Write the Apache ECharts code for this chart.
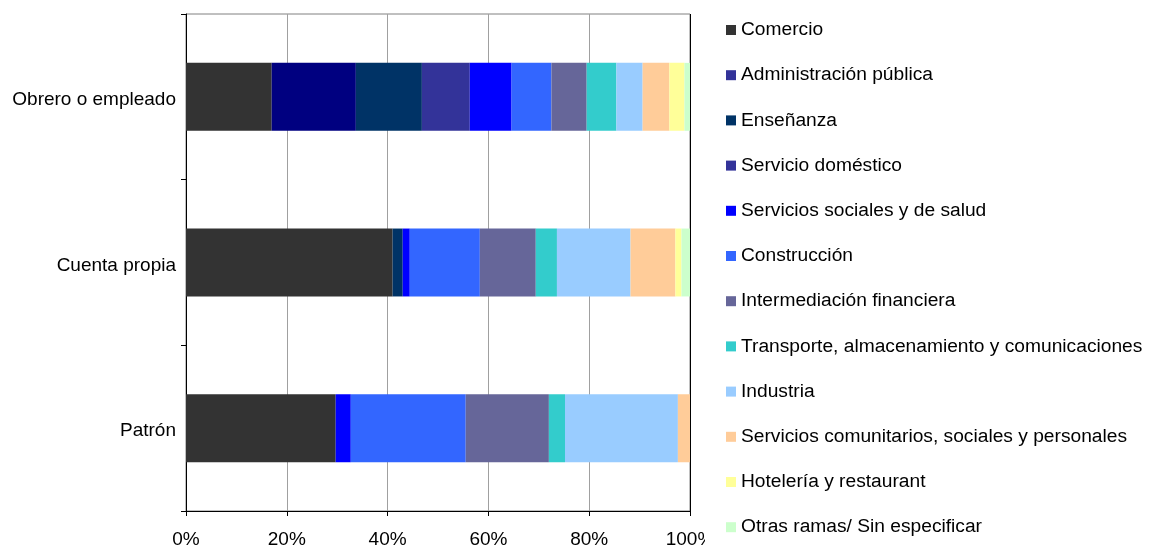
<!DOCTYPE html>
<html>
<head>
<meta charset="utf-8">
<script src="https://cdn.jsdelivr.net/npm/echarts@6/dist/echarts.min.js"></script>
<style>html,body{margin:0;padding:0;background:#fff}#c{width:1149px;height:549px}</style>
</head>
<body>
<div id="c"></div>
<script>
const categories = ['Obrero o empleado', 'Cuenta propia', 'Patrón'];
const xTicks = [0, 20, 40, 60, 80, 100];
const seriesNames = ['Comercio', 'Administración pública', 'Enseñanza', 'Servicio doméstico',
  'Servicios sociales y de salud', 'Construcción', 'Intermediación financiera',
  'Transporte, almacenamiento y comunicaciones', 'Industria',
  'Servicios comunitarios, sociales y personales', 'Hotelería y restaurant',
  'Otras ramas/ Sin especificar'];
const comercio = [17.0, 41.0, 29.7];
const administracion = [16.7, 0, 0];
const ensenanza = [13.1, 2.0, 0];
const domestico = [9.5, 0, 0];
const salud = [8.3, 1.4, 3.0];
const construccion = [7.9, 13.9, 22.8];
const intermediacion = [7.0, 11.1, 16.5];
const transporte = [5.9, 4.2, 3.2];
const industria = [5.2, 14.6, 22.4];
const comunitarios = [5.3, 8.9, 2.4];
const hoteleria = [3.0, 1.2, 0];
const otras = [1.1, 1.7, 0];
const seriesValues = [comercio, administracion, ensenanza, domestico, salud, construccion,
  intermediacion, transporte, industria, comunitarios, hoteleria, otras];
const colors = ['#333333', '#000080', '#003366', '#333399', '#0000FF', '#3366FF',
  '#666699', '#33CCCC', '#99CCFF', '#FFCC99', '#FFFF99', '#CCFFCC'];
const legendColors = ['#333333', '#333399', '#003366', '#333399', '#0000FF', '#3366FF',
  '#666699', '#33CCCC', '#99CCFF', '#FFCC99', '#FFFF99', '#CCFFCC'];

const font = '"Liberation Sans", Arial, sans-serif';
const chart = echarts.init(document.getElementById('c'), null, {renderer: 'canvas'});
chart.setOption({
  animation: false,
  backgroundColor: '#fff',
  textStyle: {fontFamily: font},
  grid: {left: 186, right: 459, top: 14, bottom: 36, show: true, borderColor: '#808080', borderWidth: 1},
  xAxis: {
    type: 'value', min: 0, max: 100, interval: 20,
    axisLine: {show: true, lineStyle: {color: '#000', width: 1}},
    axisTick: {show: true, length: 5, lineStyle: {color: '#000'}},
    axisLabel: {formatter: v => xTicks.includes(v) ? v + '%' : '', fontSize: 19, color: '#000', margin: 19, fontFamily: font},
    splitLine: {show: true, lineStyle: {color: ['#000', '#a0a0a0', '#a0a0a0', '#a0a0a0', '#a0a0a0', '#000'], width: 1}}
  },
  yAxis: {
    type: 'category', data: categories, inverse: true,
    axisLine: {show: true, lineStyle: {color: '#000', width: 1}},
    axisTick: {show: true, length: 5, alignWithLabel: false, lineStyle: {color: '#000'}},
    axisLabel: {
      fontSize: 19, color: '#000', margin: 10, fontFamily: font,
      formatter: v => '{a|' + v + '}',
      rich: {a: {fontSize: 19, color: '#000', fontFamily: font, padding: [6, 0, 0, 0]}}
    },
    splitLine: {show: false}
  },
  legend: {
    orient: 'vertical', left: 705, top: 14,
    padding: [6, 10, 8, 21],
    backgroundColor: '#fff',
    itemWidth: 10, itemHeight: 10, itemGap: 25.2,
    icon: 'rect',
    selectedMode: false,
    textStyle: {fontSize: 19.2, color: '#000', lineHeight: 20, fontFamily: font},
    data: seriesNames.map((n, i) => ({name: n, itemStyle: {color: legendColors[i]}}))
  },
  series: seriesNames.map((n, i) => ({
    name: n, type: 'bar', stack: 'total', barWidth: '41%',
    data: seriesValues[i],
    itemStyle: {color: colors[i]}
  }))
});
</script>
</body>
</html>
